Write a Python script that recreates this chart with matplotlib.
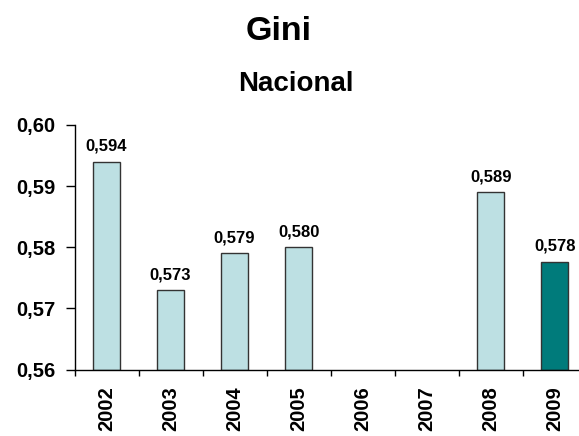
import matplotlib.pyplot as plt
from matplotlib import font_manager as fm
import numpy as np

years = ["2002", "2003", "2004", "2005", "2006", "2007", "2008", "2009"]
gini = [0.594, 0.573, 0.579, 0.580, np.nan, np.nan, 0.589, 0.5776]
labels = ["0,594", "0,573", "0,579", "0,580", "", "", "0,589", "0,578"]

light = "#bde0e3"
dark = "#007b7b"

# pick the regular-width Liberation Sans Bold file (not Narrow)
arial_bold = None
for f in fm.findSystemFonts():
    name = f.split("/")[-1]
    if name == "LiberationSans-Bold.ttf":
        arial_bold = f
        break


def fp(size):
    if arial_bold:
        return fm.FontProperties(fname=arial_bold, size=size)
    return fm.FontProperties(family="DejaVu Sans", weight="bold", size=size)


fig = plt.figure(figsize=(5.79, 4.36), dpi=100)
ax = fig.add_axes([74.5 / 579, 1 - 369.5 / 436, 504.5 / 579, 244.5 / 436])

base = 0.56
x = np.arange(len(years))
colors = [light] * (len(years) - 1) + [dark]
for xi, v, c, lab in zip(x, gini, colors, labels):
    if np.isnan(v):
        continue
    ax.bar(xi, v - base, bottom=base, width=0.43, color=c,
           edgecolor="#333333", linewidth=1.0, zorder=2)
    ax.text(xi, v + 0.0013, lab, ha="center", va="bottom", fontproperties=fp(12))

ax.set_xlim(-0.5, 7.38)
ax.set_ylim(0.56, 0.60)
ax.set_yticks([0.56, 0.57, 0.58, 0.59, 0.60])
ax.set_yticklabels(["0,56", "0,57", "0,58", "0,59", "0,60"], fontproperties=fp(14.5))

# category labels centred, ticks between categories
ax.set_xticks(x)
ax.set_xticklabels(years, rotation=90, fontproperties=fp(14.5))
ax.tick_params(axis="x", which="major", length=0, pad=12)
ax.set_xticks(np.arange(-0.5, 7.0, 1), minor=True)
ax.tick_params(axis="x", which="minor", length=4.5, width=1, direction="out")
ax.tick_params(axis="y", length=6.5, width=1, direction="out", pad=7)

for s in ["top", "right"]:
    ax.spines[s].set_visible(False)
ax.spines["left"].set_linewidth(1)
ax.spines["bottom"].set_linewidth(1)

fig.text(278.5 / 579, 1 - 40 / 436, "Gini", ha="center", va="baseline",
         fontproperties=fp(24.5))
fig.text(295.5 / 579, 1 - 91 / 436, "Nacional", ha="center", va="baseline",
         fontproperties=fp(20))

fig.savefig("out.png", dpi=100)
